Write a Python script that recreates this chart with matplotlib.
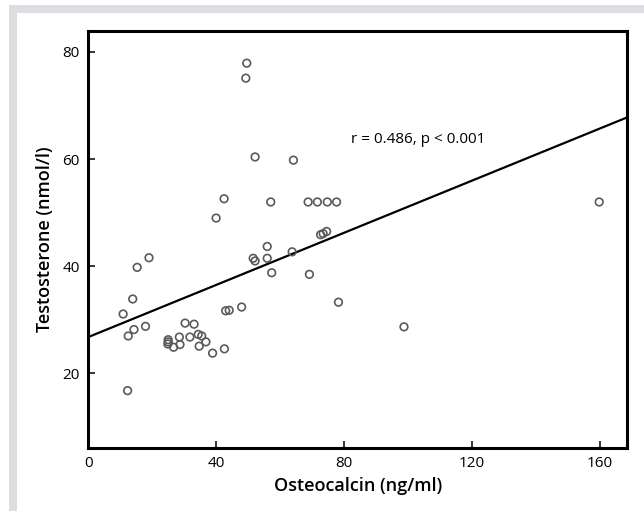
import matplotlib
matplotlib.use("Agg")
from matplotlib import pyplot as plt
from matplotlib.patches import Rectangle

# values
osteocalcin = [49.6, 49.3, 52.2, 64.2, 42.5, 57.1, 68.8, 71.7, 74.8, 77.7,
               159.9, 40.0, 72.7, 73.5, 74.6, 56.0, 63.8, 19.0, 51.6, 52.2,
               56.0, 15.3, 57.4, 69.2, 13.9, 78.3, 10.9, 48.0, 43.0, 44.1,
               17.9, 98.8, 14.3, 12.5, 30.3, 33.1, 28.5, 31.8, 34.4, 35.5,
               25.0, 25.0, 24.9, 28.7, 26.7, 34.7, 36.8, 38.9, 42.6, 12.3]
testosterone = [77.9, 75.1, 60.4, 59.8, 52.6, 52.0, 52.0, 52.0, 52.0, 52.0,
                52.0, 49.0, 45.9, 46.1, 46.5, 43.7, 42.7, 41.6, 41.5, 41.0,
                41.5, 39.8, 38.8, 38.5, 33.9, 33.3, 31.1, 32.4, 31.7, 31.8,
                28.8, 28.7, 28.2, 27.0, 29.4, 29.2, 26.8, 26.8, 27.3, 27.0,
                26.3, 25.9, 25.5, 25.4, 24.9, 25.1, 25.9, 23.8, 24.6, 16.8]

fit_intercept = 26.8
fit_slope = 0.243
stat_text = "r = 0.486, p < 0.001"

xticks = [0, 40, 80, 120, 160]
yticks = [20, 40, 60, 80]

plt.rcParams['font.family'] = ['Open Sans', 'DejaVu Sans']

W, H = 644, 511
fig = plt.figure(figsize=(W / 100, H / 100), dpi=100)

# light grey frame round the figure
fig.patches.append(Rectangle((9 / W, 0), 1, 1 - 5 / H, transform=fig.transFigure,
                             facecolor='#dcdde0', edgecolor='none', zorder=-2))
fig.patches.append(Rectangle((17 / W, 0), 1, 1 - 13 / H, transform=fig.transFigure,
                             facecolor='white', edgecolor='none', zorder=-1))

ax = fig.add_axes([88.3 / W, 1 - 448 / H, (627.3 - 88.3) / W, (448 - 31) / H])
ax.set_xlim(0, 168.7)
ax.set_ylim(6.1, 83.9)

ax.scatter(osteocalcin, testosterone, s=30, facecolors='none',
           edgecolors='#5a5a5a', linewidths=1.2, zorder=3)

xl = ax.get_xlim()
ax.plot(xl, [fit_intercept + fit_slope * v for v in xl], color='black', lw=1.6, zorder=2)

ax.text(82.1, 63.7, stat_text, fontsize=11, va='center', ha='left')

ax.set_xticks(xticks)
ax.set_yticks(yticks)
ax.tick_params(direction='in', length=5, width=1.1, labelsize=11, pad=6)
for s in ax.spines.values():
    s.set_linewidth(2.2)

ax.set_xlabel("Osteocalcin (ng/ml)", fontsize=13, fontweight='semibold', labelpad=4)
ax.set_ylabel("Testosterone (nmol/l)", fontsize=13, fontweight='semibold', labelpad=6)

fig.savefig("out.png", dpi=100)
